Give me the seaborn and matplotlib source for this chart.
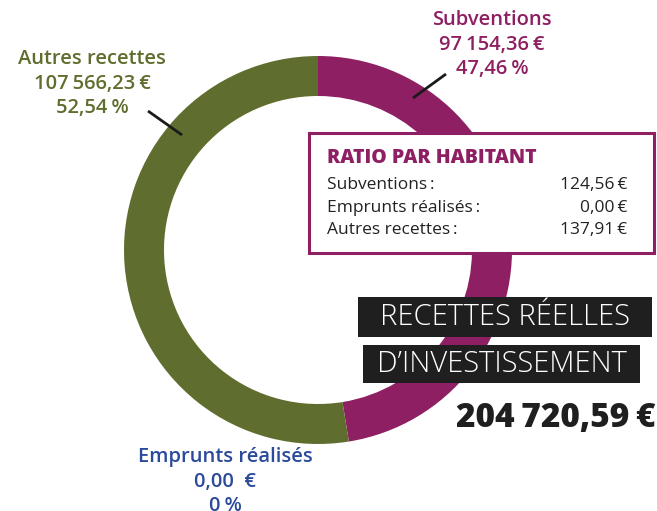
import matplotlib
matplotlib.use("Agg")
import matplotlib.pyplot as plt
import seaborn as sns
from matplotlib.patches import Rectangle

# data
categories = ["Subventions", "Emprunts réalisés", "Autres recettes"]
amounts = [97154.36, 0.00, 107566.23]
amount_labels = ["97\u2009154,36\u2009€", "0,00  €", "107\u2009566,23\u2009€"]
pct_labels = ["47,46\u2009%", "0\u2009%", "52,54\u2009%"]
ratio_labels = ["124,56\u2009€", "0,00\u2009€", "137,91\u2009€"]
total_label = "204\u2009720,59\u2009€"

colors = ["#8E1F62", "#2B4A9B", "#5F6E2E"]

sns.set_theme(style="white")
plt.rcParams["font.family"] = ["Open Sans", "DejaVu Sans"]

W, H = 657, 511
fig = plt.figure(figsize=(W / 100, H / 100), dpi=100)
ax = fig.add_axes([0, 0, 1, 1])


def Y(y):
    # pixel row -> data y
    return H - y


# donut, clockwise from top
ax.pie(amounts, colors=colors, startangle=90, counterclock=False,
       radius=194, center=(318, Y(250)),
       wedgeprops=dict(width=40, linewidth=0))
ax.set_xlim(0, W)
ax.set_ylim(0, H)
ax.axis("off")

# outer labels
def block(x, y0, lines, color):
    for i, t in enumerate(lines):
        ax.text(x, Y(y0 + i * 24.5), t, color=color, fontsize=14.5,
                fontweight="semibold", ha="center", va="center")

block(492, 20, [categories[0], amount_labels[0], pct_labels[0]], colors[0])
block(92, 59, [categories[2], amount_labels[2], pct_labels[2]], colors[2])
block(225, 457, [categories[1], amount_labels[1], pct_labels[1]], colors[1])

# leader lines
ax.plot([413, 446], [Y(98), Y(74)], color="#1a1a1a", lw=2, solid_capstyle="butt")
ax.plot([148, 182], [Y(111), Y(135)], color="#1a1a1a", lw=2, solid_capstyle="butt")

# ratio box
ax.add_patch(Rectangle((309, Y(253)), 345, 120, facecolor="white",
                       edgecolor=colors[0], lw=2.2, zorder=3))
ax.text(327, Y(158), "RATIO PAR HABITANT", color=colors[0], fontsize=14,
        fontweight="heavy", ha="left", va="center", zorder=4)
for i, (c, r) in enumerate(zip(categories, ratio_labels)):
    yy = Y(185 + i * 22.5)
    ax.text(327, yy, c + "\u2009:", color="#222222", fontsize=12.5,
            ha="left", va="center", zorder=4)
    ax.text(627, yy, r, color="#222222", fontsize=12.5,
            ha="right", va="center", zorder=4)

# title boxes
ax.add_patch(Rectangle((358, Y(337)), 294, 40, facecolor="#1f1f1f",
                       edgecolor="none", zorder=3))
ax.text(505, Y(317), "RECETTES RÉELLES", color="white", fontsize=21,
        fontweight="light", ha="center", va="center", zorder=4)
ax.add_patch(Rectangle((363, Y(383)), 277, 38, facecolor="#1f1f1f",
                       edgecolor="none", zorder=3))
ax.text(501.5, Y(364), "D\u2019INVESTISSEMENT", color="white", fontsize=21,
        fontweight="light", ha="center", va="center", zorder=4)

ax.text(655, Y(418), total_label, color="#1f1f1f", fontsize=24,
        fontweight="heavy", ha="right", va="center", zorder=4)

fig.savefig("out.png", dpi=100)
